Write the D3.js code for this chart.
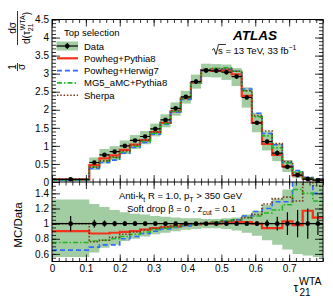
<!DOCTYPE html>
<html><head><meta charset="utf-8">
<script src="https://cdn.jsdelivr.net/npm/d3@7"></script>
<style>
body{margin:0;background:#fff}
text{font-family:"Liberation Sans",Arial,Helvetica,sans-serif;fill:#000}
</style></head><body>
<svg id="chart" width="333" height="297"></svg>
<script>
// bin edges of tau21 WTA
const binEdges = [0, 0.11, 0.14, 0.17, 0.20, 0.23, 0.26, 0.29, 0.32, 0.35, 0.38, 0.41, 0.44,
  0.47, 0.50, 0.53, 0.56, 0.59, 0.62, 0.65, 0.68, 0.71, 0.74, 0.77, 0.80];
// unfolded data, 1/sigma dsigma/dtau
const dataVals = [0.075, 0.54, 0.75, 0.84, 1.0, 1.15, 1.26, 1.47, 1.72, 2.04, 2.36, 2.78,
  3.09, 3.08, 3.04, 2.92, 2.34, 1.64, 1.12, 0.80, 0.42, 0.19, 0.08, 0.05];
// relative stat. error of data
const dataErr = [0.10, 0.05, 0.04, 0.035, 0.03, 0.03, 0.025, 0.02, 0.02, 0.02, 0.02, 0.02,
  0.02, 0.02, 0.02, 0.02, 0.02, 0.03, 0.05, 0.09, 0.15, 0.18, 0.2, 0.15];
// total uncertainty band (ratio units)
const bandHi = [1.32, 1.26, 1.22, 1.18, 1.15, 1.13, 1.12, 1.10, 1.09, 1.08, 1.07, 1.07,
  1.06, 1.06, 1.07, 1.08, 1.12, 1.17, 1.25, 1.33, 1.45, 1.55, 1.60, 1.60];
const bandLo = [0.56, 0.62, 0.68, 0.72, 0.77, 0.80, 0.83, 0.86, 0.88, 0.90, 0.92, 0.93,
  0.94, 0.94, 0.93, 0.91, 0.88, 0.84, 0.78, 0.72, 0.66, 0.60, 0.58, 0.56];
// MC / Data
const powPy8 = [0.90, 0.87, 0.87, 0.88, 0.89, 0.90, 0.92, 0.94, 0.95, 0.96, 0.98, 0.99,
  1.0, 1.0, 1.02, 1.02, 1.02, 1.0, 0.94, 0.94, 1.03, 0.98, 1.17, 1.08];
const powHw7 = [0.65, 0.69, 0.72, 0.72, 0.80, 0.83, 0.87, 0.90, 0.93, 0.95, 0.97, 0.99,
  1.0, 1.01, 1.03, 1.05, 1.10, 1.16, 1.20, 1.29, 1.29, 1.68, 1.65, 1.40];
const mg5Py8 = [0.75, 0.77, 0.78, 0.80, 0.83, 0.86, 0.89, 0.92, 0.94, 0.96, 0.98, 0.99,
  1.0, 1.02, 1.04, 1.05, 1.08, 1.10, 1.14, 1.18, 1.25, 1.45, 1.40, 1.30];
const sherpa = [1.0, 0.76, 0.78, 0.82, 0.86, 0.89, 0.92, 0.94, 0.96, 0.97, 0.99, 1.0,
  1.01, 1.02, 1.03, 1.05, 1.08, 1.12, 1.26, 1.33, 1.35, 1.30, 1.55, 1.50];
const xTicks = [0, 0.1, 0.2, 0.3, 0.4, 0.5, 0.6, 0.7];
const yTopTicks = [0, 0.5, 1, 1.5, 2, 2.5, 3, 3.5, 4, 4.5];
const yBotTicks = [0.6, 0.8, 1, 1.2, 1.4];
const mcNames = ["Powheg+Pythia8", "Powheg+Herwig7", "MG5_aMC+Pythia8", "Sherpa"];

const mcSeries = [powPy8, powHw7, mg5Py8, sherpa];
const mcStyle = [
  {color: "#f5331b", width: 2.2, dash: null},
  {color: "#2f6bff", width: 1.6, dash: "5,3"},
  {color: "#22b522", width: 1.6, dash: "5,2,1.5,2"},
  {color: "#7a3a1c", width: 1.6, dash: "1.5,1.8"}
];
const bandColor = "#a2cca2";

const svg = d3.select("#chart");
const left = 52, right = 323, topY = 19.5, midY = 182, botY = 261.5;

const x = d3.scaleLinear().domain([0, 0.8]).range([left, right]);
const yTop = d3.scaleLinear().domain([0, 4.5]).range([midY, topY]);
const yBot = d3.scaleLinear().domain([0.5, 1.55]).range([botY, midY]);

const bins = dataVals.map((v, i) => ({
  x0: binEdges[i], x1: binEdges[i + 1], xc: (binEdges[i] + binEdges[i + 1]) / 2,
  v: v, err: dataErr[i], hi: bandHi[i], lo: bandLo[i]
}));

const defs = svg.append("defs");
defs.append("clipPath").attr("id", "clipTop").append("rect")
  .attr("x", left).attr("y", topY).attr("width", right - left).attr("height", midY - topY);
defs.append("clipPath").attr("id", "clipBot").append("rect")
  .attr("x", left).attr("y", midY).attr("width", right - left).attr("height", botY - midY);

function stepPts(vals) {
  return binEdges.map((e, i) => [e, vals[Math.min(i, vals.length - 1)]]);
}

// ---------- top panel ----------
const gTop = svg.append("g").attr("clip-path", "url(#clipTop)");
gTop.selectAll("rect.band").data(bins).join("rect")
  .attr("x", d => x(d.x0)).attr("width", d => x(d.x1) - x(d.x0))
  .attr("y", d => yTop(d.v * d.hi)).attr("height", d => yTop(d.v * d.lo) - yTop(d.v * d.hi))
  .attr("fill", bandColor);

const lineTop = d3.line().curve(d3.curveStepAfter).x(d => x(d[0])).y(d => yTop(d[1]));
mcSeries.forEach((s, k) => {
  const vals = s.map((r, i) => r * dataVals[i]);
  gTop.append("path").attr("d", lineTop(stepPts(vals)))
    .attr("fill", "none").attr("stroke", mcStyle[k].color)
    .attr("stroke-width", mcStyle[k].width).attr("stroke-dasharray", mcStyle[k].dash);
});
const dTop = gTop.append("g");
dTop.selectAll("line.h").data(bins).join("line")
  .attr("x1", d => x(d.x0)).attr("x2", d => x(d.x1))
  .attr("y1", d => yTop(d.v)).attr("y2", d => yTop(d.v))
  .attr("stroke", "#000").attr("stroke-width", 1.2);
dTop.selectAll("line.v").data(bins).join("line")
  .attr("x1", d => x(d.xc)).attr("x2", d => x(d.xc))
  .attr("y1", d => yTop(d.v * (1 + d.err))).attr("y2", d => yTop(d.v * (1 - d.err)))
  .attr("stroke", "#000").attr("stroke-width", 1.2);
dTop.selectAll("circle").data(bins).join("circle")
  .attr("cx", d => x(d.xc)).attr("cy", d => yTop(d.v)).attr("r", 2.3).attr("fill", "#000");

// ---------- ratio panel ----------
const gBot = svg.append("g").attr("clip-path", "url(#clipBot)");
const area = d3.area().curve(d3.curveStepAfter).x(d => x(d[0]))
  .y0(d => yBot(d[2])).y1(d => yBot(d[1]));
gBot.append("path")
  .attr("d", area(binEdges.map((e, i) => {
    const j = Math.min(i, bins.length - 1);
    return [e, bandHi[j], bandLo[j]];
  })))
  .attr("fill", bandColor);
const lineBot = d3.line().curve(d3.curveStepAfter).x(d => x(d[0])).y(d => yBot(d[1]));
mcSeries.forEach((s, k) => {
  gBot.append("path").attr("d", lineBot(stepPts(s)))
    .attr("fill", "none").attr("stroke", mcStyle[k].color)
    .attr("stroke-width", mcStyle[k].width).attr("stroke-dasharray", mcStyle[k].dash);
});
gBot.append("line").attr("x1", x(0)).attr("x2", x(0.8)).attr("y1", yBot(1)).attr("y2", yBot(1))
  .attr("stroke", "#000").attr("stroke-width", 1.2);
gBot.selectAll("line.v").data(bins).join("line")
  .attr("x1", d => x(d.xc)).attr("x2", d => x(d.xc))
  .attr("y1", d => yBot(1 + d.err)).attr("y2", d => yBot(1 - d.err))
  .attr("stroke", "#000").attr("stroke-width", 1.2);
gBot.selectAll("circle").data(bins).join("circle")
  .attr("cx", d => x(d.xc)).attr("cy", yBot(1)).attr("r", 2.3).attr("fill", "#000");

// ---------- axes ----------
function ticksRange(a, b, step) {
  const out = [];
  for (let t = a; t <= b + 1e-9; t += step) out.push(+t.toFixed(4));
  return out;
}
function frameAxes(yScale, y0, y1, majorY, minorY, showX) {
  const minorX = ticksRange(0, 0.8, 0.02);
  const bx = svg.append("g").attr("transform", `translate(0,${y0})`);
  bx.call(d3.axisBottom(x).tickValues(minorX).tickSize(-3.5).tickFormat(""));
  bx.call(g => g.append("g").call(d3.axisBottom(x).tickValues(xTicks).tickSize(-7)
    .tickFormat(showX ? d3.format("") : "")));
  const tx = svg.append("g").attr("transform", `translate(0,${y1})`);
  tx.call(d3.axisTop(x).tickValues(minorX).tickSize(-3.5).tickFormat(""));
  tx.call(g => g.append("g").call(d3.axisTop(x).tickValues(xTicks).tickSize(-7).tickFormat("")));
  const ly = svg.append("g").attr("transform", `translate(${left},0)`);
  ly.call(d3.axisLeft(yScale).tickValues(minorY).tickSize(-4).tickFormat(""));
  ly.call(g => g.append("g").call(d3.axisLeft(yScale).tickValues(majorY).tickSize(-8)
    .tickFormat(d3.format(""))));
  const ry = svg.append("g").attr("transform", `translate(${right},0)`);
  ry.call(d3.axisRight(yScale).tickValues(minorY).tickSize(-4).tickFormat(""));
  ry.call(g => g.append("g").call(d3.axisRight(yScale).tickValues(majorY).tickSize(-8).tickFormat("")));
  svg.selectAll(".domain").remove();
  svg.selectAll(".tick line").attr("stroke", "#000").attr("stroke-width", 0.8);
  svg.selectAll(".tick text").attr("font-size", 10)
    .attr("font-family", '"Liberation Sans",Arial,sans-serif').attr("fill", "#000");
}
frameAxes(yTop, midY, topY, yTopTicks, ticksRange(0, 4.5, 0.1), false);
frameAxes(yBot, botY, midY, yBotTicks, ticksRange(0.55, 1.55, 0.05), true);
svg.append("rect").attr("x", left).attr("y", topY).attr("width", right - left)
  .attr("height", botY - topY).attr("fill", "none").attr("stroke", "#000").attr("stroke-width", 1);
svg.append("line").attr("x1", left).attr("x2", right).attr("y1", midY).attr("y2", midY)
  .attr("stroke", "#000").attr("stroke-width", 1);

// ---------- texts ----------
svg.append("text").attr("x", 233).attr("y", 40).attr("font-size", 13.5)
  .attr("font-weight", "bold").attr("font-style", "italic").text("ATLAS");
const rs = svg.append("text").attr("x", 218).attr("y", 54).attr("font-size", 9.5);
rs.append("tspan").text("s = 13 TeV, 33 fb");
rs.append("tspan").attr("dy", -4).attr("font-size", 7).text("\u22121");
svg.append("path").attr("d", "M212,50 L214,48.5 L216,54.5 L218.5,44.5 L226,44.5")
  .attr("fill", "none").attr("stroke", "#000").attr("stroke-width", 0.8);

const t1 = svg.append("text").attr("x", 119).attr("y", 199).attr("font-size", 9.5);
t1.append("tspan").text("Anti-k");
t1.append("tspan").attr("dy", 2.5).attr("font-size", 7).text("t");
t1.append("tspan").attr("dy", -2.5).text(" R = 1.0, p");
t1.append("tspan").attr("dy", 2.5).attr("font-size", 7).text("T");
t1.append("tspan").attr("dy", -2.5).text(" > 350 GeV");
const t2 = svg.append("text").attr("x", 127).attr("y", 212).attr("font-size", 9.5);
t2.append("tspan").text("Soft drop \u03b2 = 0 , z");
t2.append("tspan").attr("dy", 2.5).attr("font-size", 7).text("cut");
t2.append("tspan").attr("dy", -2.5).text(" = 0.1");

svg.append("text").attr("transform", "translate(22,225) rotate(-90)")
  .attr("text-anchor", "middle").attr("font-size", 11.5).text("MC/Data");

// x label
const xl = svg.append("g");
xl.append("text").attr("x", 293.5).attr("y", 292).attr("font-size", 12).text("\u03c4");
xl.append("text").attr("x", 299.5).attr("y", 296).attr("font-size", 10).text("21");
xl.append("text").attr("x", 299).attr("y", 284.5).attr("font-size", 10.5).text("WTA");

// y label top: 1/sigma dsigma/d(tau)
const yl = svg.append("g").attr("transform", "translate(0,0) rotate(-90)");
yl.append("text").attr("x", -67).attr("y", 15.5).attr("text-anchor", "middle").attr("font-size", 10).text("1");
yl.append("line").attr("x1", -71).attr("x2", -63).attr("y1", 17.5).attr("y2", 17.5).attr("stroke", "#000").attr("stroke-width", 0.8);
yl.append("text").attr("x", -67).attr("y", 25).attr("text-anchor", "middle").attr("font-size", 10).text("\u03c3");
yl.append("text").attr("x", -28).attr("y", 15.5).attr("text-anchor", "middle").attr("font-size", 10).text("d\u03c3");
yl.append("line").attr("x1", -45).attr("x2", -11).attr("y1", 17.5).attr("y2", 17.5).attr("stroke", "#000").attr("stroke-width", 0.8);
const dd = yl.append("text").attr("x", -44).attr("y", 30).attr("font-size", 10);
dd.append("tspan").text("d(\u03c4");
dd.append("tspan").attr("dy", 2.5).attr("font-size", 7).text("21");
dd.append("tspan").attr("dy", -8).attr("dx", -7).attr("font-size", 7).text("WTA");
dd.append("tspan").attr("dy", 5.5).text(")");

// legend
const lg = svg.append("g");
lg.append("text").attr("x", 64).attr("y", 36).attr("font-size", 9.5).text("Top selection");
const rowY = [46, 58.3, 70.6, 82.9, 95.2];
lg.append("rect").attr("x", 56.5).attr("y", rowY[0] - 4.5).attr("width", 21.5).attr("height", 9).attr("fill", bandColor);
lg.append("line").attr("x1", 56.5).attr("x2", 78).attr("y1", rowY[0]).attr("y2", rowY[0]).attr("stroke", "#000").attr("stroke-width", 1.2);
lg.append("line").attr("x1", 67.25).attr("x2", 67.25).attr("y1", rowY[0] - 3).attr("y2", rowY[0] + 3).attr("stroke", "#000").attr("stroke-width", 1.2);
lg.append("circle").attr("cx", 67.25).attr("cy", rowY[0]).attr("r", 2.3).attr("fill", "#000");
lg.append("text").attr("x", 84).attr("y", rowY[0] + 3.5).attr("font-size", 9.5).text("Data");
mcNames.forEach((n, k) => {
  const yy = rowY[k + 1];
  lg.append("line").attr("x1", 57).attr("x2", 78).attr("y1", yy).attr("y2", yy)
    .attr("stroke", mcStyle[k].color).attr("stroke-width", mcStyle[k].width)
    .attr("stroke-dasharray", mcStyle[k].dash);
  lg.append("text").attr("x", 84).attr("y", yy + 3.5).attr("font-size", 9.5).text(n);
});
</script>
</body></html>
